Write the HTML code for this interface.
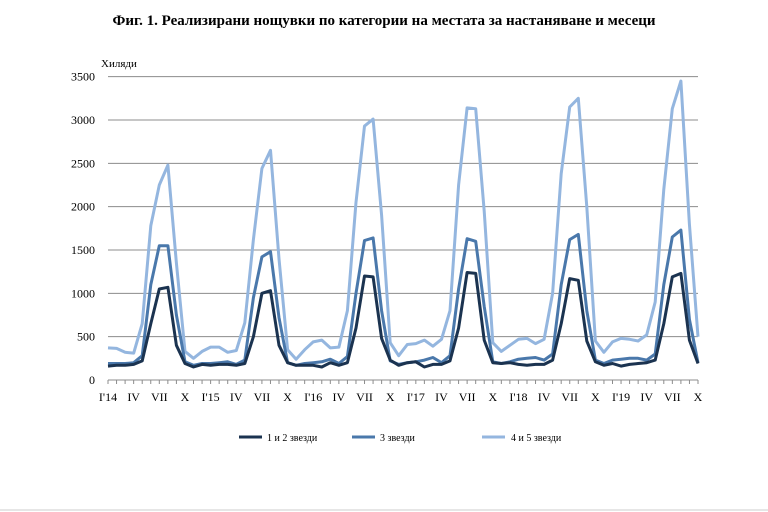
<!DOCTYPE html>
<html><head><meta charset="utf-8"><style>
body{margin:0;background:#fff;width:768px;height:512px;overflow:hidden}
svg{display:block;font-family:"Liberation Serif",serif}
</style></head><body>
<svg width="768" height="512" viewBox="0 0 768 512">
<text x="384" y="25" text-anchor="middle" font-size="15" font-weight="bold">Фиг. 1. Реализирани нощувки по категории на местата за настаняване и месеци</text>
<text x="101" y="67" font-size="11">Хиляди</text>
<g id="grid" stroke="#8c8c8c" stroke-width="1"></g>
<g id="ylab" font-size="12" text-anchor="end"></g>
<g id="xax"></g>
<g id="series" fill="none" stroke-width="3" stroke-linejoin="round"></g>
<g font-size="10">
<line x1="239" y1="437" x2="262" y2="437" stroke="#1b3350" stroke-width="3"/><text x="267" y="441">1 и 2 звезди</text>
<line x1="352" y1="437" x2="375" y2="437" stroke="#4a78ab" stroke-width="3"/><text x="380" y="441">3 звезди</text>
<line x1="482" y1="437" x2="505" y2="437" stroke="#94b6df" stroke-width="3"/><text x="511" y="441">4 и 5 звезди</text>
</g>
<line x1="0" y1="510" x2="768" y2="510" stroke="#ccc"/>
</svg>
<script>
var NS="http://www.w3.org/2000/svg";
function el(p,t,a,txt){var e=document.createElementNS(NS,t);for(var k in a)e.setAttribute(k,a[k]);if(txt)e.textContent=txt;document.getElementById(p).appendChild(e);}
var x0=108,x1=698,y0=380,sc=260/3000;
function X(i){return x0+i*(x1-x0)/69}function Y(v){return y0-v*sc}
for(var v=500;v<=3500;v+=500)el("grid","line",{x1:x0,x2:x1,y1:Y(v),y2:Y(v)});
for(var v=0;v<=3500;v+=500)el("ylab","text",{x:95,y:Y(v)+4},String(v));
el("xax","line",{x1:x0,x2:x1,y1:y0,y2:y0,stroke:"#8c8c8c"});
for(var i=0;i<70;i++)el("xax","line",{x1:X(i),x2:X(i),y1:y0,y2:y0+4,stroke:"#8c8c8c"});
var yrs=["14","15","16","17","18","19"],lab=["I'","IV","VII","X"];
for(var i=0;i<70;i+=3){var m=i%12,y=Math.floor(i/12);var t=m==0?"I'"+yrs[y]:lab[m/3];el("xax","text",{x:X(i),y:401,"font-size":12,"text-anchor":"middle"},t);}
var light=[370,365,320,310,650,1780,2250,2480,1350,330,250,330,
380,380,320,340,660,1620,2440,2650,1400,350,240,350,
440,460,370,380,800,2050,2930,3010,1900,430,280,410,
420,460,390,470,800,2250,3140,3130,1950,430,330,400,
470,480,420,470,1000,2380,3150,3250,2000,450,320,440,
480,470,450,520,900,2200,3130,3450,1800,500];
var mid=[190,190,190,200,280,1100,1550,1550,750,210,170,190,
190,200,210,180,230,950,1420,1480,720,200,170,190,
200,210,240,190,270,1000,1610,1640,800,220,180,200,
210,230,260,200,280,1050,1630,1600,850,210,190,210,
240,250,260,230,300,1100,1620,1680,800,230,190,230,
240,250,250,230,300,1100,1650,1730,700,200];
var dark=[160,170,170,180,220,650,1050,1070,400,190,150,180,
170,180,180,170,190,500,1000,1030,400,200,170,170,
170,150,200,170,200,600,1200,1190,480,230,170,200,
210,150,180,180,220,600,1240,1230,460,200,190,200,
180,170,180,180,230,650,1170,1150,450,210,170,190,
160,180,190,200,230,650,1190,1230,460,190];
[[light,"#94b6df"],[mid,"#4a78ab"],[dark,"#1b3350"]].forEach(function(s){
el("series","polyline",{points:s[0].map(function(v,i){return X(i).toFixed(1)+","+Y(v).toFixed(1)}).join(" "),stroke:s[1]});});
</script>
</body></html>
